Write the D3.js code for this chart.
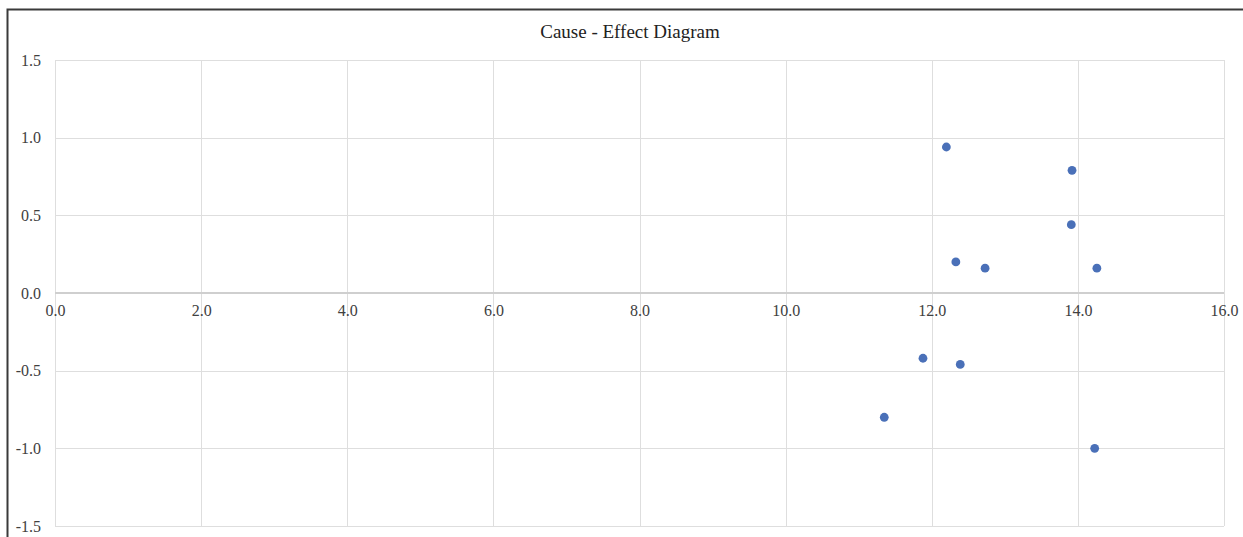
<!DOCTYPE html>
<html>
<head>
<meta charset="utf-8">
<script src="https://cdn.jsdelivr.net/npm/d3@7/dist/d3.min.js"></script>
<style>
  html, body { margin: 0; padding: 0; background: #fff; }
  svg { display: block; }
</style>
</head>
<body>
<svg id="chart" width="1243" height="537"></svg>
<script>
const title = "Cause - Effect Diagram";
const causeValues  = [12.20, 13.92, 13.91, 12.33, 12.73, 14.26, 11.88, 12.39, 11.35, 14.23];
const effectValues = [0.94, 0.79, 0.44, 0.20, 0.16, 0.16, -0.42, -0.46, -0.80, -1.00];
const xTicks = [0, 2, 4, 6, 8, 10, 12, 14, 16];
const yTicks = [-1.5, -1.0, -0.5, 0, 0.5, 1.0, 1.5];

const svg = d3.select("#chart");
const W = 1243, H = 537;
const plot = { left: 55, right: 1224, top: 60, bottom: 526 };

const x = d3.scaleLinear().domain([0, 16]).range([plot.left, plot.right]);
const y = d3.scaleLinear().domain([-1.5, 1.5]).range([plot.bottom, plot.top]);

// outer frame (top and left edges visible)
svg.append("path")
  .attr("d", `M7.5,${H} L7.5,9.5 L${W},9.5`)
  .attr("fill", "none")
  .attr("stroke", "#3a3a3a")
  .attr("stroke-width", 2);

// title
svg.append("text")
  .attr("x", 630)
  .attr("y", 38)
  .attr("text-anchor", "middle")
  .attr("font-family", "'Liberation Serif', 'Times New Roman', serif")
  .attr("font-size", 19)
  .attr("fill", "#222")
  .text(title);

// gridlines
const grid = svg.append("g");
grid.selectAll("line.h").data(yTicks).enter().append("line")
  .attr("x1", plot.left).attr("x2", plot.right)
  .attr("y1", d => Math.round(y(d)) + 0.5).attr("y2", d => Math.round(y(d)) + 0.5)
  .attr("stroke", "#dedede").attr("stroke-width", 1);
grid.selectAll("line.v").data(xTicks).enter().append("line")
  .attr("y1", plot.top).attr("y2", plot.bottom)
  .attr("x1", d => Math.round(x(d)) + 0.5).attr("x2", d => Math.round(x(d)) + 0.5)
  .attr("stroke", "#dedede").attr("stroke-width", 1);

// horizontal axis line at y = 0
svg.append("line")
  .attr("x1", plot.left).attr("x2", plot.right)
  .attr("y1", y(0)).attr("y2", y(0))
  .attr("stroke", "#cfcfcf").attr("stroke-width", 2);

// y axis labels
const yAxis = d3.axisLeft(y).tickValues(yTicks).tickSize(0).tickPadding(0)
  .tickFormat(d3.format(".1f"));
const gy = svg.append("g").attr("transform", `translate(41,0)`).call(yAxis);
gy.select(".domain").remove();
gy.selectAll("text")
  .attr("font-family", "'Liberation Serif', 'Times New Roman', serif")
  .attr("font-size", 16)
  .attr("fill", "#404040")
  .text(d => d3.format(".1f")(d).replace("−", "-"));

// x axis labels (at y = 0 line)
const xAxis = d3.axisBottom(x).tickValues(xTicks).tickSize(0).tickPadding(0)
  .tickFormat(d3.format(".1f"));
const gx = svg.append("g").attr("transform", `translate(0,${y(0) + 12})`).call(xAxis);
gx.select(".domain").remove();
gx.selectAll("text")
  .attr("font-family", "'Liberation Serif', 'Times New Roman', serif")
  .attr("font-size", 16)
  .attr("fill", "#404040");

// points
const pts = causeValues.map((c, i) => ({ c, e: effectValues[i] }));
svg.append("g").selectAll("circle").data(pts).enter().append("circle")
  .attr("cx", d => x(d.c))
  .attr("cy", d => y(d.e))
  .attr("r", 4.4)
  .attr("fill", "#4a70b8");
</script>
</body>
</html>
